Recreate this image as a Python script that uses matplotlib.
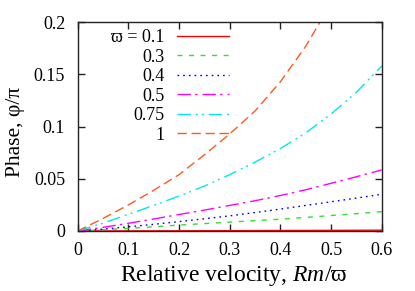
import numpy as np
import matplotlib
matplotlib.use("Agg")
import matplotlib.pyplot as plt

plt.rcParams['font.family'] = ['Liberation Serif', 'DejaVu Serif']
plt.rcParams['mathtext.fontset'] = 'custom'
plt.rcParams['mathtext.it'] = 'Liberation Serif:italic'
plt.rcParams['mathtext.rm'] = 'Liberation Serif'

# values
x = [0.0, 0.05, 0.1, 0.15, 0.2, 0.25, 0.3, 0.35, 0.4, 0.45, 0.5, 0.55, 0.6]
phase_01 = [0.0, 0.00005, 0.0001, 0.00015, 0.0002, 0.00025, 0.0003, 0.0004, 0.0005,
            0.00055, 0.0006, 0.0007, 0.0008]
phase_03 = [0.0, 0.0012, 0.0025, 0.0040, 0.0057, 0.0071, 0.0085, 0.0099, 0.0113,
            0.0130, 0.0148, 0.0166, 0.0185]
phase_04 = [0.0, 0.0018, 0.0040, 0.0064, 0.0090, 0.0117, 0.0145, 0.0177, 0.0210,
            0.0245, 0.0280, 0.0315, 0.0352]
phase_05 = [0.0, 0.0035, 0.0074, 0.0115, 0.0158, 0.0200, 0.0245, 0.0290, 0.0340,
            0.0395, 0.0457, 0.0520, 0.0585]
phase_075 = [0.0, 0.0075, 0.0160, 0.0245, 0.0335, 0.0430, 0.0540, 0.0660, 0.0790,
             0.0940, 0.1120, 0.1330, 0.1580]
x_1 = [0.0, 0.05, 0.1, 0.15, 0.2, 0.25, 0.3, 0.35, 0.4, 0.45, 0.5]
phase_1 = [0.0, 0.012, 0.025, 0.039, 0.054, 0.073, 0.093, 0.115, 0.143, 0.177, 0.218]

labels = ['\u03d6 = 0.1', '0.3', '0.4', '0.5', '0.75', '1']
colors = ['#ff0000', '#33dd33', '#0000ee', '#ff00ff', '#00e8f0', '#ff5a1e']
styles = ['-', (0, (3.6, 4.7)), (0, (1.2, 2.9)), (0, (9.6, 3.1, 1.7, 3.6)),
          (0, (9.6, 3.6, 1.4, 2.9, 1.4, 3.6)), (0, (6.7, 3.4))]

fig = plt.figure(figsize=(4.15, 2.91), dpi=100)
ax = fig.add_axes([0.1872, 0.2062, 0.7326, 0.7172])

series = [(x, phase_01), (x, phase_03), (x, phase_04), (x, phase_05), (x, phase_075), (x_1, phase_1)]
for (xs, ys), lab, c, ls in zip(series, labels, colors, styles):
    ax.plot(xs, ys, color=c, linestyle=ls, lw=1.0, label=lab)

ax.set_xlim(0, 0.6)
ax.set_ylim(0, 0.2)
ax.set_xticks([0, 0.1, 0.2, 0.3, 0.4, 0.5, 0.6])
ax.set_xticklabels(['0', '0.1', '0.2', '0.3', '0.4', '0.5', '0.6'])
ax.set_yticks([0, 0.05, 0.1, 0.15, 0.2])
ax.set_yticklabels(['0', '0.05', '0.1', '0.15', '0.2'])
ax.tick_params(direction='in', length=5, width=1, top=True, right=True,
               labelsize=13, colors='#222222', labelcolor='black')
ax.tick_params(axis='x', pad=8)
ax.tick_params(axis='y', pad=9)
for s in ax.spines.values():
    s.set_linewidth(1.0)
    s.set_color('#222222')

ax.set_xlabel('Relative velocity, $Rm$/\u03d6', fontsize=17)
ax.xaxis.set_label_coords(0.514, -0.151)
ax.set_ylabel('Phase, \u03c6/\u03c0', fontsize=15.5)
ax.yaxis.set_label_coords(-0.172, 0.474)

ax.legend(loc='upper right', bbox_to_anchor=(229 / 415, 1 - 29 / 291),
          bbox_transform=fig.transFigure, frameon=False, markerfirst=False,
          fontsize=13, handlelength=2.9, handletextpad=0.67, labelspacing=0.14,
          borderpad=0, borderaxespad=0)

fig.savefig('out.png', dpi=100)
